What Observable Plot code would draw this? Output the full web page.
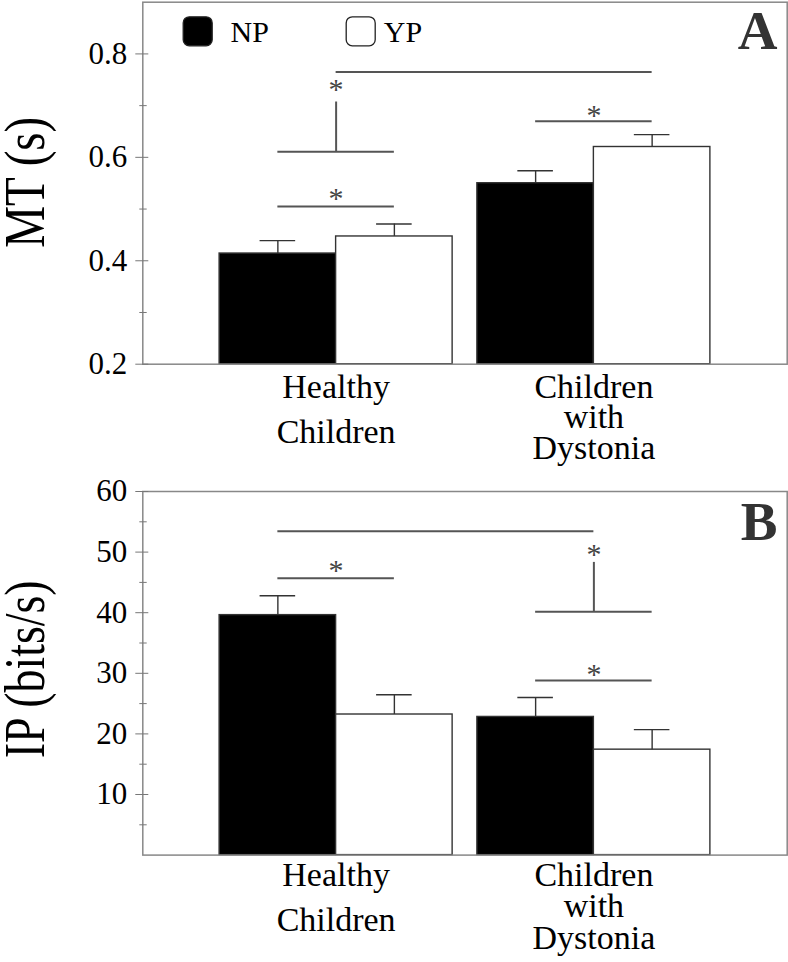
<!DOCTYPE html>
<html><head><meta charset="utf-8">
<script src="https://cdn.jsdelivr.net/npm/d3@7"></script>
<script src="https://cdn.jsdelivr.net/npm/@observablehq/plot@0.6"></script>
<style>
body{margin:0;background:#fff;}
#chart svg{display:block;}
</style></head><body><div id="chart"></div>
<script>
// ---- data ----
const groups = ["Healthy\nChildren", "Children\nwith\nDystonia"];
const seriesNames = ["NP", "YP"];
const seriesFill = ["#000000", "#ffffff"];

// Panel A: movement time (s); order: Healthy NP, Healthy YP, Dystonia NP, Dystonia YP
const mtMean = [0.414, 0.447, 0.550, 0.620];
const mtSE = [0.025, 0.024, 0.024, 0.024];
const mtTicks = [0.2, 0.4, 0.6, 0.8];
const mtMinor = [0.3, 0.5, 0.7];
// significance marks, anchored to [group, series] (-1 = group centre)
const mtLines = [
  {from: [0, -1], to: [1, 1], y: 0.765},
  {from: [0, 0], to: [0, 1], y: 0.611},
  {from: [0, 0], to: [0, 1], y: 0.505},
  {from: [1, 0], to: [1, 1], y: 0.670}
];
const mtStems = [{at: [0, -1], y1: 0.611, y2: 0.707}];
const mtStars = [{at: [0, -1], y: 0.741}, {at: [0, -1], y: 0.532}, {at: [1, -1], y: 0.6925}];

// Panel B: index of performance (bits/s)
const ipMean = [39.6, 23.2, 22.8, 17.4];
const ipSE = [3.2, 3.25, 3.2, 3.3];
const ipTicks = [10, 20, 30, 40, 50, 60];
const ipMinor = [5, 15, 25, 35, 45, 55];
const ipLines = [
  {from: [0, 0], to: [1, -1], y: 53.45},
  {from: [0, 0], to: [0, 1], y: 45.7},
  {from: [1, 0], to: [1, 1], y: 40.15},
  {from: [1, 0], to: [1, 1], y: 28.8}
];
const ipStems = [{at: [1, -1], y1: 40.15, y2: 48.3}];
const ipStars = [{at: [0, -1], y: 47.8}, {at: [1, -1], y: 50.5}, {at: [1, -1], y: 30.7}];

// ---- drawing ----
const FONT = "'Liberation Serif', 'Times New Roman', Times, serif";
const BW = 0.452, OFF = 0.226, CAP = 0.069;
const xAt = ([g, s]) => g + (s < 0 ? 0 : s === 0 ? -OFF : OFF);

const roundedSquare = {
  draw(context, size) {
    const r = Math.sqrt(size / Math.PI), c = r * 0.42;
    context.moveTo(-r + c, -r);
    context.arcTo(r, -r, r, r, c);
    context.arcTo(r, r, -r, r, c);
    context.arcTo(-r, r, -r, -r, c);
    context.arcTo(-r, -r, r, -r, c);
    context.closePath();
  }
};

function panel(cfg) {
  const rows = [];
  groups.forEach((g, gi) => seriesNames.forEach((s, si) => {
    const k = gi * 2 + si;
    rows.push({gi, si, series: s, mean: cfg.mean[k], se: cfg.se[k]});
  }));
  const xc = d => xAt([d.gi, d.si]);
  const marks = [
    Plot.rectY(rows, {
      x1: d => d.gi + (d.si === 0 ? -BW : 0), x2: d => d.gi + (d.si === 0 ? 0 : BW),
      y1: cfg.yDomain[0], y2: "mean", fill: "series", stroke: "#333", strokeWidth: 1.4
    }),
    Plot.ruleX(rows, {x: xc, y1: "mean", y2: d => d.mean + d.se, stroke: "#333", strokeWidth: 1.4}),
    Plot.ruleY(rows, {y: d => d.mean + d.se, x1: d => xc(d) - CAP, x2: d => xc(d) + CAP, stroke: "#333", strokeWidth: 1.4}),
    Plot.ruleY(cfg.lines, {y: "y", x1: d => xAt(d.from), x2: d => xAt(d.to), stroke: "#555", strokeWidth: 2}),
    Plot.ruleX(cfg.stems, {x: d => xAt(d.at), y1: "y1", y2: "y2", stroke: "#555", strokeWidth: 2}),
    Plot.text(cfg.stars, {x: d => xAt(d.at), y: "y", text: () => "*", fontSize: 30, fontFamily: FONT, fill: "#444", dy: 5.4}),
    Plot.frame({stroke: "#888", strokeWidth: 1.5}),
    Plot.axisY({ticks: cfg.ticks, tickSize: 13, dx: 6, tickPadding: 8.6, tickFormat: cfg.fmt,
      stroke: "#777", fill: "#000", fontSize: 31, fontFamily: FONT, fontVariant: "normal", label: null}),
    Plot.axisY({ticks: cfg.minor, tickSize: 7.4, dx: 4.4, tickFormat: () => "", stroke: "#777", label: null}),
    Plot.text([groups[0]], {x: 0, text: d => d, frameAnchor: "bottom", lineAnchor: "top",
      lineHeight: cfg.lh0, dy: cfg.dy0, fontSize: 34, fontFamily: FONT, fill: "#000"}),
    Plot.text([groups[1]], {x: 1, text: d => d, frameAnchor: "bottom", lineAnchor: "top",
      lineHeight: cfg.lh1, dy: cfg.dy1, fontSize: 34, fontFamily: FONT, fill: "#000"}),
    Plot.text([cfg.title], {text: d => d, frameAnchor: "left", textAnchor: "middle", rotate: -90, lineAnchor: "bottom",
      dx: -98.5, dy: cfg.titleDy, fontSize: 58, fontFamily: FONT, fill: "#000"}),
    Plot.text([cfg.letter], {text: d => d, frameAnchor: "top-right", textAnchor: "end", lineAnchor: "top",
      dx: -9.7, dy: cfg.letterDy, fontSize: 55, fontFamily: FONT, fontWeight: "bold", fill: "#333"})
  ];
  if (cfg.legend) {
    marks.push(
      Plot.dot([seriesNames[0]], {x: null, y: null, frameAnchor: "top-left", dx: 54.9, dy: 29.1, r: 14.5,
        symbol: roundedSquare, fill: seriesFill[0], stroke: "#222", strokeWidth: 1.3}),
      Plot.dot([seriesNames[1]], {x: null, y: null, frameAnchor: "top-left", dx: 217.9, dy: 29.1, r: 14.5,
        symbol: roundedSquare, fill: seriesFill[1], stroke: "#222", strokeWidth: 1.3}),
      Plot.text([seriesNames[0]], {text: d => d, frameAnchor: "top-left", textAnchor: "start", lineAnchor: "bottom",
        dx: 87.7, dy: 40, fontSize: 30, fontFamily: FONT, fill: "#000"}),
      Plot.text([seriesNames[1]], {text: d => d, frameAnchor: "top-left", textAnchor: "start", lineAnchor: "bottom",
        dx: 241, dy: 40, fontSize: 30, fontFamily: FONT, fill: "#000"})
    );
  }
  const svg = Plot.plot({
    width: 788, height: cfg.height,
    marginLeft: 142.3, marginRight: 1.3, marginTop: cfg.marginTop, marginBottom: cfg.marginBottom,
    x: {domain: [-0.75, 1.75], axis: null},
    y: {domain: cfg.yDomain, axis: null},
    color: {domain: seriesNames, range: seriesFill},
    style: {fontFamily: FONT, background: "white", overflow: "visible", color: "#000"},
    marks
  });
  // the reference's axis title is set in a horizontally condensed face
  svg.querySelectorAll("text").forEach(t => {
    if (t.textContent === cfg.title) {
      const tr = t.getAttribute("transform") || "";
      t.setAttribute("transform", (tr + " scale(" + cfg.titleScale + ",1)").trim());
    }
  });
  return svg;
}

const root = document.getElementById("chart");
root.appendChild(panel({
  mean: mtMean, se: mtSE, yDomain: [0.2, 0.9], ticks: mtTicks, minor: mtMinor, fmt: d3.format(".1f"),
  lines: mtLines, stems: mtStems, stars: mtStars,
  title: "MT (s)", titleScale: 0.81, titleDy: -1, letter: "A", letterDy: 7.4,
  height: 480, marginTop: 1.7, marginBottom: 116.3,
  lh0: 1.3235, dy0: 1.65, lh1: 0.897, dy1: 11.95, legend: true
}));
root.appendChild(panel({
  mean: ipMean, se: ipSE, yDomain: [0, 60], ticks: ipTicks, minor: ipMinor, fmt: d3.format("d"),
  lines: ipLines, stems: ipStems, stars: ipStars,
  title: "IP (bits/s)", titleScale: 0.79, titleDy: -4, letter: "B", letterDy: 9.5,
  height: 482, marginTop: 11, marginBottom: 107.4,
  lh0: 1.303, dy0: -0.35, lh1: 0.92, dy1: 8.9, legend: false
}));
</script></body></html>
